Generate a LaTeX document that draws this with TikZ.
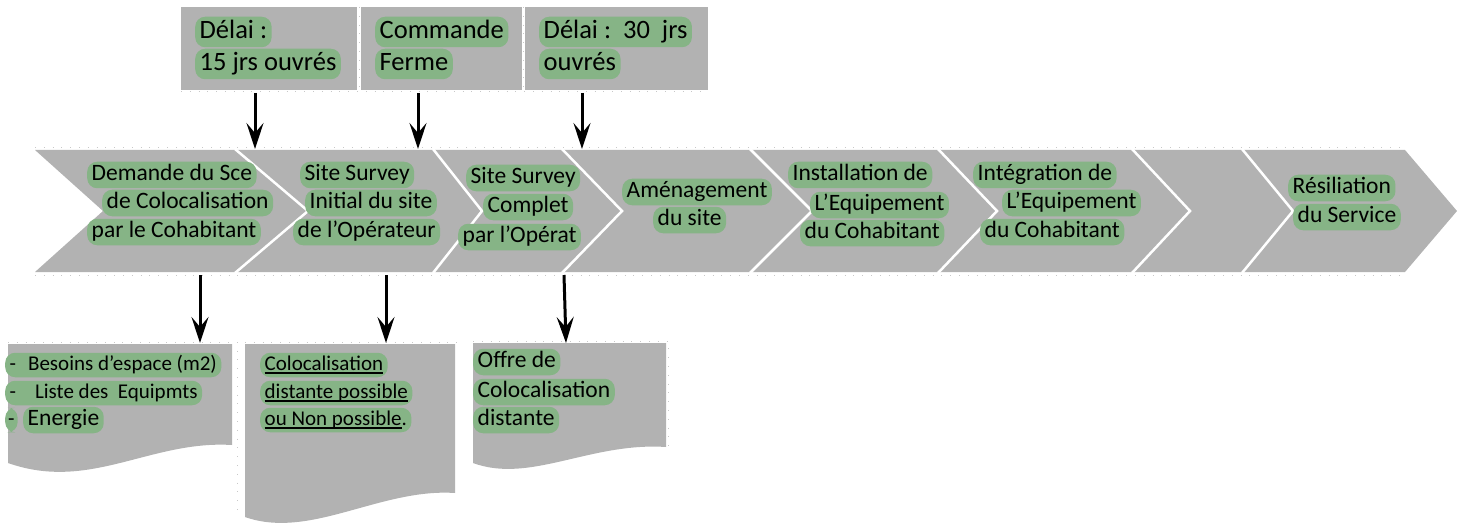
\documentclass[tikz,border=0pt]{standalone}
\usepackage{fontspec}
\setmainfont{Carlito}
\usetikzlibrary{arrows.meta}
\definecolor{boxgray}{RGB}{178,178,178}
\definecolor{hlgreen}{RGB}{134,180,134}
\definecolor{dotgray}{RGB}{200,200,200}
\newcommand{\myul}[1]{\setbox0\hbox{#1}\rlap{\rule[-3.5pt]{\wd0}{1.6pt}}\box0}
\begin{document}
\begin{tikzpicture}[x=1pt,y=-1pt,
  hl/.style={fill=hlgreen, rounded corners=10pt, anchor=west, inner xsep=4.5pt, inner ysep=1.5pt,
    text height=17.5pt, text depth=6pt, font=\fontsize{23.5}{28}\selectfont, text=black},
  hlT/.style={hl, inner ysep=2pt, text height=19.5pt, text depth=7pt, font=\fontsize{26.5}{32}\selectfont},
  hlD/.style={hl, inner ysep=1.5pt, text height=16pt, text depth=5.5pt, font=\fontsize{21}{26}\selectfont},
  tbox/.style={fill=boxgray, inner sep=0pt, outer sep=0pt, anchor=north west},
  arr/.style={line width=3pt, -{Stealth[length=26pt,width=17pt,inset=10pt]}},
  sepline/.style={white, line width=2.5pt},
  dotframe/.style={dotgray, line width=0.8pt, dash pattern=on 0.8pt off 8pt},
]
\useasboundingbox (0,0) rectangle (1457,524);

% faint frame dots
\draw[dotframe] (181,91) -- (708,91);
\draw[dotframe] (359,7) -- (359,90);
\draw[dotframe] (523.5,7) -- (523.5,90);
\draw[dotframe] (35,147) -- (1405,147);
\draw[dotframe] (35,275) -- (1405,275);
\draw[dotframe] (8,342) -- (237,342) -- (237,512);
\draw[dotframe] (245,342) -- (458,342);
\draw[dotframe] (473,341) -- (668,341) -- (668,447);

% top boxes
\node[tbox, minimum width=176pt, minimum height=83pt] (t1) at (181,7) {};
\node[tbox, minimum width=161pt, minimum height=83pt] (t2) at (361,7) {};
\node[tbox, minimum width=183pt, minimum height=83pt] (t3) at (525,7) {};

\node[hlT] (t1a) at (195,32) {Délai :};
\node[hlT] (t1b) at (195,64) {15 jrs ouvrés};
\node[hlT] (t2a) at (375,32) {Commande};
\node[hlT] (t2b) at (375,64) {Ferme};
\node[hlT] (t3a) at (539,32) {Délai :\ \ 30\ \ jrs};
\node[hlT] (t3b) at (539,64) {ouvrés};

% chevron band
\fill[boxgray] (35,150) -- (1405,150) -- (1457,211) -- (1405,272) -- (35,272) -- (103,211) -- cycle;
\foreach \a/\b in {235/308, 433/482, 562/622, 750/812, 938/997, 1132/1190, 1242/1293}
  \draw[sepline] (\a,149) -- (\b,211) -- (\a,273);

% chevron texts
\node[hl] (c1a) at (87,175) {Demande du Sce};
\node[hl] (c1b) at (102,203) {de Colocalisation};
\node[hl] (c1c) at (87,232) {par le Cohabitant};
\node[hl] (c2a) at (300,175) {Site Survey};
\node[hl] (c2b) at (305,203) {Initial du site};
\node[hl] (c2c) at (293,232) {de l’Opérateur};
\node[hl] (c3a) at (466,178) {Site Survey};
\node[hl] (c3b) at (483,207) {Complet};
\node[hl] (c3c) at (458,237) {par l’Opérat};
\node[hl] (c4a) at (622,192) {Aménagement};
\node[hl] (c4b) at (653,220) {du site};
\node[hl] (c5a) at (788,175) {Installation de};
\node[hl] (c5b) at (810,205) {L’Equipement};
\node[hl] (c5c) at (800,233) {du Cohabitant};
\node[hl] (c6a) at (973,175) {Intégration de};
\node[hl] (c6b) at (1002,203) {L’Equipement};
\node[hl] (c6c) at (980,232) {du Cohabitant};
\node[hl] (c8a) at (1288,188) {Résiliation};
\node[hl] (c8b) at (1293,217) {du Service};

% documents
\fill[boxgray] (8,344) -- (232,344) -- (232,445) .. controls (150,440) and (90,492) .. (8,463) -- cycle;
\fill[boxgray] (245,344) -- (455,344) -- (455,493) .. controls (380,488) and (310,540) .. (245,517) -- cycle;
\fill[boxgray] (473,343) -- (666,343) -- (666,447) .. controls (590,442) and (530,484) .. (473,463) -- cycle;

\node[hlD] (d1a) at (5,365) {-\hspace{12pt}Besoins d’espace (m2)};
\node[hlD] (d1b) at (5,393) {-\hspace{19pt}Liste des\ \ Equipmts};
\node[hlD, inner xsep=3pt] (d1c) at (5,420) {-};
\node[hl] (d1d) at (23,420) {Energie};

\node[hlD] (d2a) at (260,365) {\myul{Colocalisation}};
\node[hlD] (d2b) at (260,393) {\myul{distante possible}};
\node[hlD] (d2c) at (260,420) {\myul{ou Non possible}.};

\node[hl] (d3a) at (473,362) {Offre de};
\node[hl] (d3b) at (473,392) {Colocalisation};
\node[hl] (d3c) at (473,420) {distante};

% connectors
\coordinate (u1s) at (255,93);  \coordinate (u1e) at (255,149);
\coordinate (u2s) at (418,93);  \coordinate (u2e) at (418,149);
\coordinate (u3s) at (582,93);  \coordinate (u3e) at (582,149);
\coordinate (l1s) at (200,275); \coordinate (l1e) at (200,343);
\coordinate (l2s) at (386,275); \coordinate (l2e) at (386,343);
\coordinate (l3s) at (564,275); \coordinate (l3e) at (566,343);
\foreach \p in {u1,u2,u3,l1,l2,l3}
  \draw[arr] (\p s) -- (\p e);
\end{tikzpicture}
\end{document}
